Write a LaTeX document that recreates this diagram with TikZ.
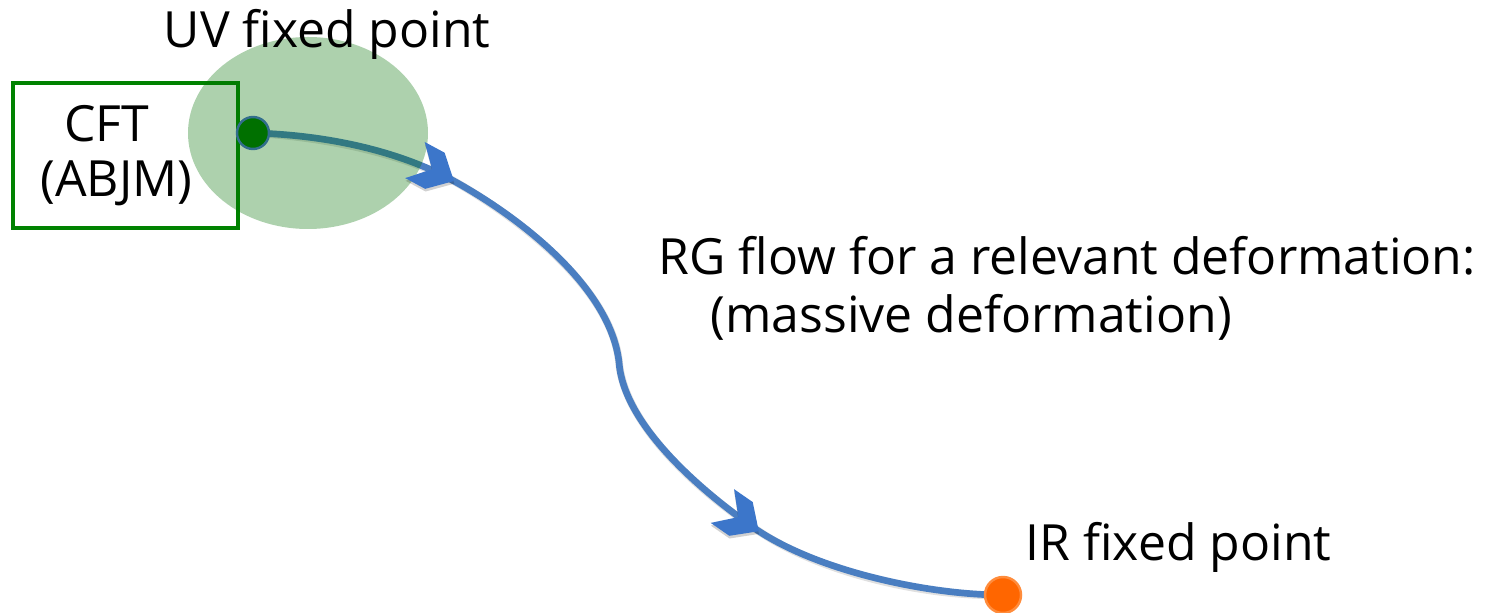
\documentclass[tikz,border=0pt]{standalone}
\usepackage{fontspec}
\setmainfont{Open Sans}
\usetikzlibrary{shapes.geometric}

\definecolor{flowblue}{RGB}{74,126,193}
\definecolor{tipblue}{RGB}{60,118,202}
\definecolor{uvgreen}{RGB}{0,112,0}
\definecolor{boxgreen}{RGB}{0,130,0}
\definecolor{irorange}{RGB}{255,102,0}
\definecolor{irring}{RGB}{255,140,60}
\definecolor{dotring}{RGB}{50,110,140}

\tikzset{
  label text/.style={font=\fontsize{14.2}{17}\selectfont, inner sep=0pt},
  fixed dot/.style={circle, inner sep=0pt, line width=0.7pt},
  flow line/.style={draw=flowblue, line width=1.9pt},
  flow shadow/.style={draw=black, draw opacity=0.12, line width=2.2pt},
  chevron/.pic={
    \begin{scope}[scale=1.08]
    \fill[black, opacity=0.18, shift={(0.015,-0.02)}]
      (0.02,0) -- (-0.18,0.19) -- (-0.39,0.19) -- (-0.21,0) -- (-0.39,-0.19) -- (-0.18,-0.19) -- cycle;
    \fill[tipblue]
      (0.02,0) -- (-0.18,0.19) -- (-0.39,0.19) -- (-0.21,0) -- (-0.39,-0.19) -- (-0.18,-0.19) -- cycle;
    \end{scope}
  }
}

\begin{document}
\begin{tikzpicture}
\useasboundingbox (0,0) rectangle (14.9,6.12);

% CFT box
\node[draw=boxgreen, line width=0.9pt, minimum width=2.25cm, minimum height=1.45cm, inner sep=0pt]
  (cftbox) at (1.255,4.565) {};

% endpoints and joints of the flow
\coordinate (uvpt) at (2.53,4.79);
\coordinate (irpt) at (10.03,0.17);
\coordinate (tipa) at (4.52,4.32);
\coordinate (kink) at (6.19,2.50);
\coordinate (tipb) at (7.57,0.82);

% RG flow line
\foreach \sty/\dx/\dy in {flow shadow/0.015/-0.025, flow line/0/0}{
  \draw[\sty, shift={(\dx,\dy)}]
    (uvpt) .. controls (3.30,4.77) and (4.00,4.60) .. (tipa)
           .. controls (5.20,3.95) and (6.10,3.25) .. (kink)
           .. controls (6.23,1.90) and (6.95,1.25) .. (tipb)
           .. controls (8.20,0.40) and (9.30,0.17) .. (irpt);
}

% UV region
\node[ellipse, fill=uvgreen, fill opacity=0.32, minimum width=2.4cm, minimum height=1.92cm, inner sep=0pt]
  (uvregion) at (3.08,4.79) {};

% arrow tips along the flow
\pic[rotate=-28.3] at (tipa) {chevron};
\pic[rotate=-34.7] at (tipb) {chevron};

% fixed points
\node[fixed dot, fill=uvgreen, draw=dotring, minimum size=0.32cm] (uvdot) at (uvpt) {};
\node[fixed dot, fill=irorange, draw=irring, minimum size=0.36cm] (irdot) at (irpt) {};

% labels
\node[label text, anchor=base west] (uvlabel) at (1.63,5.64) {UV fixed point};
\node[label text, anchor=base] (cftlabel) at (1.065,4.70) {CFT};
\node[label text, anchor=base] (abjmlabel) at (1.165,4.15) {(ABJM)};
\node[label text, anchor=base west] (rglabel) at (6.58,3.37) {RG flow for a relevant deformation:};
\node[label text, anchor=base west] (masslabel) at (7.10,2.79) {(massive deformation)};
\node[label text, anchor=base west] (irlabel) at (10.25,0.52) {IR fixed point};
\end{tikzpicture}
\end{document}
